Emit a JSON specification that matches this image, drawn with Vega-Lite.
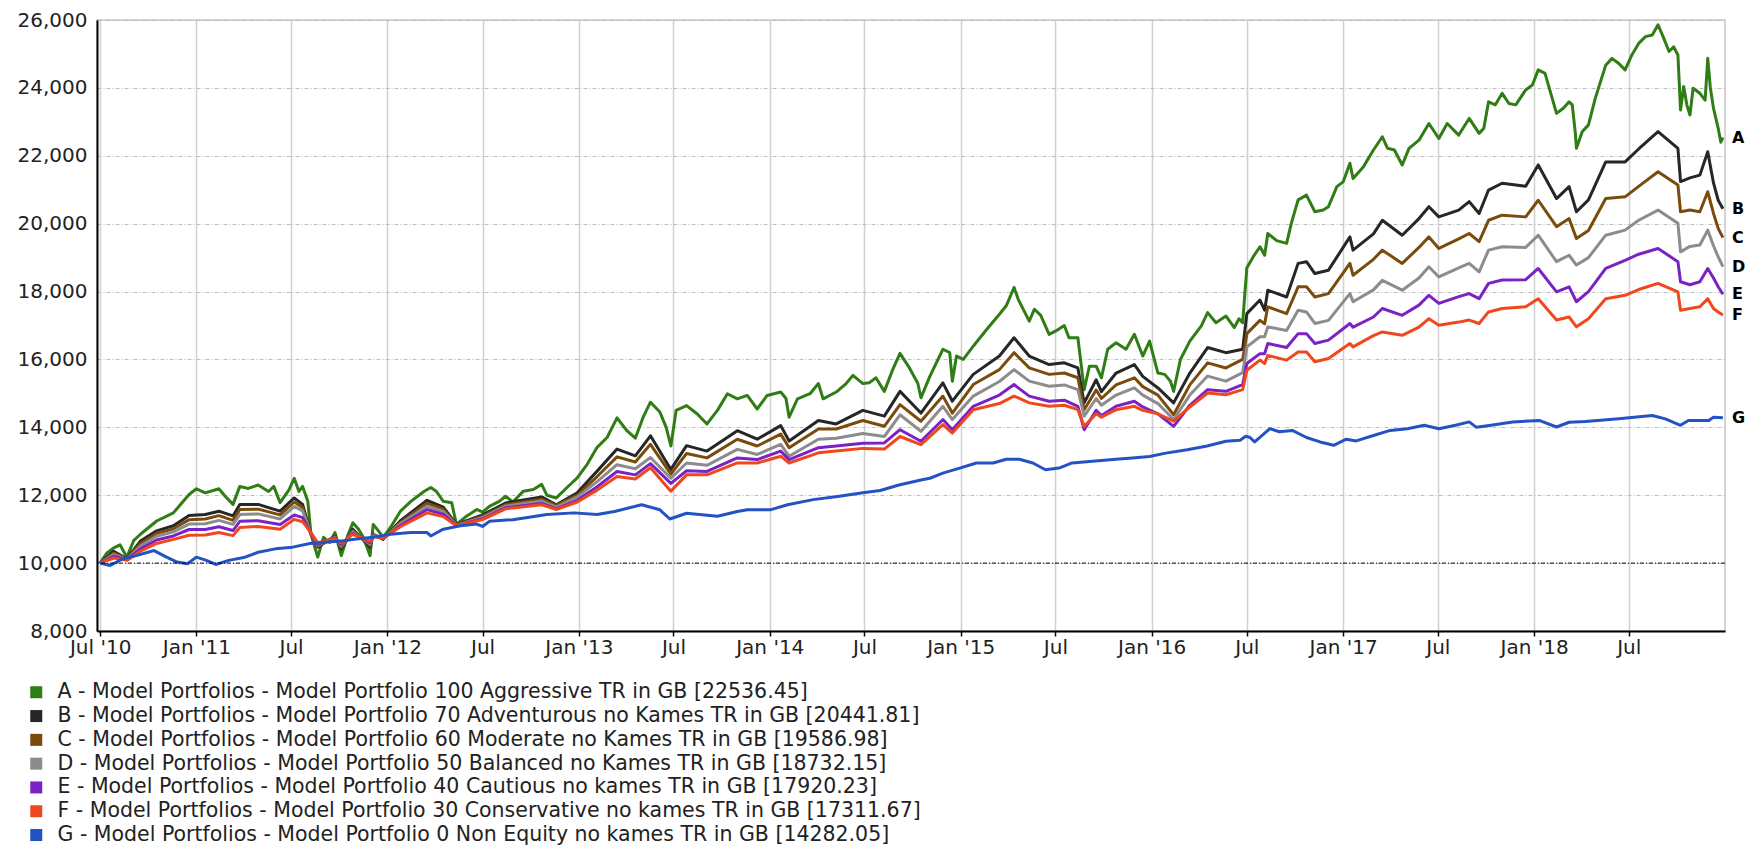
{
"$schema": "https://vega.github.io/schema/vega-lite/v6.json",
"width": 1628, "height": 611,
"autosize": {"type": "none"},
"padding": {"left": 97, "top": 20, "right": 24, "bottom": 217},
"background": "white",
"config": {"view": {"stroke": "#c8c8c8", "strokeWidth": 1.5}, "font": "DejaVu Sans"},
"datasets": {"series": [
{"d":"2010-07-01","s":"A","v":10000},{"d":"2010-07-14","s":"A","v":10300},{"d":"2010-07-27","s":"A","v":10450},{"d":"2010-08-08","s":"A","v":10540},{"d":"2010-08-21","s":"A","v":10175},{"d":"2010-09-03","s":"A","v":10660},{"d":"2010-09-16","s":"A","v":10850},{"d":"2010-10-17","s":"A","v":11240},{"d":"2010-11-18","s":"A","v":11480},{"d":"2010-12-18","s":"A","v":12020},{"d":"2011-01-01","s":"A","v":12190},{"d":"2011-01-18","s":"A","v":12070},{"d":"2011-02-13","s":"A","v":12190},{"d":"2011-02-25","s":"A","v":11970},{"d":"2011-03-12","s":"A","v":11730},{"d":"2011-03-25","s":"A","v":12260},{"d":"2011-04-10","s":"A","v":12200},{"d":"2011-04-29","s":"A","v":12300},{"d":"2011-05-19","s":"A","v":12110},{"d":"2011-05-29","s":"A","v":12260},{"d":"2011-06-10","s":"A","v":11780},{"d":"2011-06-27","s":"A","v":12160},{"d":"2011-07-07","s":"A","v":12500},{"d":"2011-07-16","s":"A","v":12110},{"d":"2011-07-23","s":"A","v":12260},{"d":"2011-08-02","s":"A","v":11820},{"d":"2011-08-08","s":"A","v":10850},{"d":"2011-08-21","s":"A","v":10175},{"d":"2011-09-01","s":"A","v":10760},{"d":"2011-09-13","s":"A","v":10610},{"d":"2011-09-23","s":"A","v":10900},{"d":"2011-10-05","s":"A","v":10220},{"d":"2011-10-17","s":"A","v":10800},{"d":"2011-10-27","s":"A","v":11190},{"d":"2011-11-07","s":"A","v":11000},{"d":"2011-11-16","s":"A","v":10760},{"d":"2011-11-29","s":"A","v":10220},{"d":"2011-12-05","s":"A","v":11140},{"d":"2011-12-15","s":"A","v":10950},{"d":"2011-12-24","s":"A","v":10760},{"d":"2012-01-07","s":"A","v":11050},{"d":"2012-01-26","s":"A","v":11530},{"d":"2012-02-15","s":"A","v":11820},{"d":"2012-03-11","s":"A","v":12110},{"d":"2012-03-24","s":"A","v":12230},{"d":"2012-04-04","s":"A","v":12110},{"d":"2012-04-17","s":"A","v":11820},{"d":"2012-05-03","s":"A","v":11780},{"d":"2012-05-12","s":"A","v":11140},{"d":"2012-06-01","s":"A","v":11390},{"d":"2012-06-20","s":"A","v":11580},{"d":"2012-07-01","s":"A","v":11500},{"d":"2012-07-14","s":"A","v":11670},{"d":"2012-08-02","s":"A","v":11820},{"d":"2012-08-14","s":"A","v":11970},{"d":"2012-08-28","s":"A","v":11800},{"d":"2012-09-17","s":"A","v":12120},{"d":"2012-10-06","s":"A","v":12170},{"d":"2012-10-22","s":"A","v":12320},{"d":"2012-11-01","s":"A","v":12000},{"d":"2012-11-19","s":"A","v":11920},{"d":"2012-12-09","s":"A","v":12220},{"d":"2012-12-29","s":"A","v":12510},{"d":"2013-01-17","s":"A","v":12910},{"d":"2013-02-05","s":"A","v":13410},{"d":"2013-02-24","s":"A","v":13700},{"d":"2013-03-15","s":"A","v":14280},{"d":"2013-04-03","s":"A","v":13900},{"d":"2013-04-19","s":"A","v":13680},{"d":"2013-05-04","s":"A","v":14300},{"d":"2013-05-18","s":"A","v":14740},{"d":"2013-06-05","s":"A","v":14450},{"d":"2013-06-17","s":"A","v":14000},{"d":"2013-06-26","s":"A","v":13450},{"d":"2013-07-06","s":"A","v":14500},{"d":"2013-07-26","s":"A","v":14640},{"d":"2013-08-15","s":"A","v":14400},{"d":"2013-09-03","s":"A","v":14100},{"d":"2013-09-23","s":"A","v":14500},{"d":"2013-10-12","s":"A","v":14990},{"d":"2013-10-31","s":"A","v":14840},{"d":"2013-11-19","s":"A","v":14940},{"d":"2013-12-08","s":"A","v":14540},{"d":"2013-12-27","s":"A","v":14940},{"d":"2014-01-22","s":"A","v":15040},{"d":"2014-02-01","s":"A","v":14850},{"d":"2014-02-07","s":"A","v":14300},{"d":"2014-02-23","s":"A","v":14840},{"d":"2014-03-19","s":"A","v":14990},{"d":"2014-04-04","s":"A","v":15290},{"d":"2014-04-13","s":"A","v":14840},{"d":"2014-05-08","s":"A","v":15040},{"d":"2014-05-27","s":"A","v":15290},{"d":"2014-06-09","s":"A","v":15530},{"d":"2014-06-28","s":"A","v":15290},{"d":"2014-07-10","s":"A","v":15310},{"d":"2014-07-23","s":"A","v":15460},{"d":"2014-08-08","s":"A","v":15060},{"d":"2014-08-24","s":"A","v":15700},{"d":"2014-09-07","s":"A","v":16180},{"d":"2014-09-25","s":"A","v":15750},{"d":"2014-10-11","s":"A","v":15300},{"d":"2014-10-17","s":"A","v":14870},{"d":"2014-11-03","s":"A","v":15500},{"d":"2014-11-28","s":"A","v":16300},{"d":"2014-12-11","s":"A","v":16200},{"d":"2014-12-16","s":"A","v":15360},{"d":"2014-12-24","s":"A","v":16100},{"d":"2015-01-06","s":"A","v":16000},{"d":"2015-01-25","s":"A","v":16390},{"d":"2015-02-20","s":"A","v":16890},{"d":"2015-03-16","s":"A","v":17330},{"d":"2015-03-29","s":"A","v":17580},{"d":"2015-04-13","s":"A","v":18120},{"d":"2015-04-21","s":"A","v":17770},{"d":"2015-05-12","s":"A","v":17130},{"d":"2015-05-22","s":"A","v":17480},{"d":"2015-06-03","s":"A","v":17300},{"d":"2015-06-19","s":"A","v":16740},{"d":"2015-07-02","s":"A","v":16840},{"d":"2015-07-18","s":"A","v":17000},{"d":"2015-07-27","s":"A","v":16640},{"d":"2015-08-13","s":"A","v":16640},{"d":"2015-08-22","s":"A","v":15500},{"d":"2015-08-25","s":"A","v":15110},{"d":"2015-09-04","s":"A","v":15800},{"d":"2015-09-17","s":"A","v":15800},{"d":"2015-09-27","s":"A","v":15460},{"d":"2015-10-09","s":"A","v":16300},{"d":"2015-10-25","s":"A","v":16490},{"d":"2015-11-13","s":"A","v":16300},{"d":"2015-11-29","s":"A","v":16740},{"d":"2015-12-15","s":"A","v":16100},{"d":"2015-12-28","s":"A","v":16540},{"d":"2016-01-13","s":"A","v":15600},{"d":"2016-01-26","s":"A","v":15560},{"d":"2016-02-06","s":"A","v":15360},{"d":"2016-02-12","s":"A","v":15060},{"d":"2016-02-25","s":"A","v":16000},{"d":"2016-03-14","s":"A","v":16540},{"d":"2016-04-05","s":"A","v":16990},{"d":"2016-04-17","s":"A","v":17380},{"d":"2016-05-03","s":"A","v":17080},{"d":"2016-05-22","s":"A","v":17280},{"d":"2016-06-07","s":"A","v":16940},{"d":"2016-06-16","s":"A","v":17200},{"d":"2016-06-23","s":"A","v":17080},{"d":"2016-06-27","s":"A","v":17900},{"d":"2016-07-01","s":"A","v":18700},{"d":"2016-07-13","s":"A","v":19020},{"d":"2016-07-26","s":"A","v":19320},{"d":"2016-08-04","s":"A","v":19070},{"d":"2016-08-10","s":"A","v":19710},{"d":"2016-08-27","s":"A","v":19500},{"d":"2016-09-15","s":"A","v":19420},{"d":"2016-09-24","s":"A","v":20010},{"d":"2016-10-07","s":"A","v":20700},{"d":"2016-10-23","s":"A","v":20840},{"d":"2016-11-08","s":"A","v":20350},{"d":"2016-11-24","s":"A","v":20400},{"d":"2016-12-04","s":"A","v":20500},{"d":"2016-12-20","s":"A","v":21090},{"d":"2017-01-01","s":"A","v":21230},{"d":"2017-01-14","s":"A","v":21780},{"d":"2017-01-20","s":"A","v":21330},{"d":"2017-02-09","s":"A","v":21680},{"d":"2017-02-28","s":"A","v":22170},{"d":"2017-03-17","s":"A","v":22560},{"d":"2017-03-27","s":"A","v":22220},{"d":"2017-04-09","s":"A","v":22170},{"d":"2017-04-24","s":"A","v":21730},{"d":"2017-05-07","s":"A","v":22220},{"d":"2017-05-26","s":"A","v":22460},{"d":"2017-06-14","s":"A","v":22950},{"d":"2017-07-03","s":"A","v":22510},{"d":"2017-07-19","s":"A","v":22950},{"d":"2017-08-10","s":"A","v":22610},{"d":"2017-08-30","s":"A","v":23100},{"d":"2017-09-18","s":"A","v":22660},{"d":"2017-09-27","s":"A","v":22810},{"d":"2017-10-06","s":"A","v":23590},{"d":"2017-10-19","s":"A","v":23500},{"d":"2017-11-01","s":"A","v":23840},{"d":"2017-11-14","s":"A","v":23540},{"d":"2017-11-27","s":"A","v":23500},{"d":"2017-12-16","s":"A","v":23940},{"d":"2017-12-29","s":"A","v":24090},{"d":"2018-01-09","s":"A","v":24530},{"d":"2018-01-22","s":"A","v":24430},{"d":"2018-02-01","s":"A","v":23890},{"d":"2018-02-13","s":"A","v":23250},{"d":"2018-02-26","s":"A","v":23400},{"d":"2018-03-09","s":"A","v":23590},{"d":"2018-03-15","s":"A","v":23500},{"d":"2018-03-21","s":"A","v":22660},{"d":"2018-03-23","s":"A","v":22220},{"d":"2018-04-03","s":"A","v":22710},{"d":"2018-04-15","s":"A","v":22910},{"d":"2018-04-28","s":"A","v":23690},{"d":"2018-05-18","s":"A","v":24670},{"d":"2018-05-30","s":"A","v":24870},{"d":"2018-06-12","s":"A","v":24720},{"d":"2018-06-24","s":"A","v":24530},{"d":"2018-07-07","s":"A","v":24970},{"d":"2018-07-20","s":"A","v":25310},{"d":"2018-08-02","s":"A","v":25510},{"d":"2018-08-15","s":"A","v":25560},{"d":"2018-08-26","s":"A","v":25860},{"d":"2018-09-06","s":"A","v":25460},{"d":"2018-09-16","s":"A","v":25070},{"d":"2018-09-25","s":"A","v":25210},{"d":"2018-10-03","s":"A","v":24970},{"d":"2018-10-08","s":"A","v":23350},{"d":"2018-10-14","s":"A","v":24040},{"d":"2018-10-20","s":"A","v":23500},{"d":"2018-10-26","s":"A","v":23200},{"d":"2018-11-01","s":"A","v":23990},{"d":"2018-11-14","s":"A","v":23840},{"d":"2018-11-24","s":"A","v":23640},{"d":"2018-11-29","s":"A","v":24870},{"d":"2018-12-04","s":"A","v":24000},{"d":"2018-12-10","s":"A","v":23400},{"d":"2018-12-19","s":"A","v":22810},{"d":"2018-12-24","s":"A","v":22400},{"d":"2018-12-28","s":"A","v":22536},
{"d":"2010-07-01","s":"B","v":10000},{"d":"2010-07-27","s":"B","v":10350},{"d":"2010-08-21","s":"B","v":10130},{"d":"2010-09-16","s":"B","v":10650},{"d":"2010-10-17","s":"B","v":10950},{"d":"2010-11-18","s":"B","v":11100},{"d":"2010-12-18","s":"B","v":11400},{"d":"2011-01-18","s":"B","v":11430},{"d":"2011-02-13","s":"B","v":11530},{"d":"2011-03-12","s":"B","v":11390},{"d":"2011-03-25","s":"B","v":11730},{"d":"2011-04-29","s":"B","v":11730},{"d":"2011-06-10","s":"B","v":11530},{"d":"2011-07-07","s":"B","v":11920},{"d":"2011-07-23","s":"B","v":11730},{"d":"2011-08-08","s":"B","v":10850},{"d":"2011-08-21","s":"B","v":10470},{"d":"2011-09-23","s":"B","v":10800},{"d":"2011-10-05","s":"B","v":10420},{"d":"2011-10-27","s":"B","v":11000},{"d":"2011-11-29","s":"B","v":10470},{"d":"2011-12-05","s":"B","v":10850},{"d":"2011-12-24","s":"B","v":10700},{"d":"2012-01-26","s":"B","v":11250},{"d":"2012-03-17","s":"B","v":11850},{"d":"2012-04-17","s":"B","v":11650},{"d":"2012-05-12","s":"B","v":11140},{"d":"2012-07-01","s":"B","v":11420},{"d":"2012-08-14","s":"B","v":11770},{"d":"2012-10-22","s":"B","v":11950},{"d":"2012-11-19","s":"B","v":11720},{"d":"2012-12-29","s":"B","v":12070},{"d":"2013-02-05","s":"B","v":12710},{"d":"2013-03-15","s":"B","v":13360},{"d":"2013-04-19","s":"B","v":13160},{"d":"2013-05-18","s":"B","v":13750},{"d":"2013-06-26","s":"B","v":12760},{"d":"2013-07-26","s":"B","v":13460},{"d":"2013-09-03","s":"B","v":13300},{"d":"2013-10-31","s":"B","v":13900},{"d":"2013-12-08","s":"B","v":13650},{"d":"2014-01-22","s":"B","v":14050},{"d":"2014-02-07","s":"B","v":13600},{"d":"2014-04-04","s":"B","v":14200},{"d":"2014-05-08","s":"B","v":14100},{"d":"2014-06-28","s":"B","v":14500},{"d":"2014-08-08","s":"B","v":14330},{"d":"2014-09-07","s":"B","v":15060},{"d":"2014-10-17","s":"B","v":14420},{"d":"2014-11-28","s":"B","v":15310},{"d":"2014-12-16","s":"B","v":14770},{"d":"2015-01-25","s":"B","v":15560},{"d":"2015-03-16","s":"B","v":16100},{"d":"2015-04-13","s":"B","v":16640},{"d":"2015-05-12","s":"B","v":16100},{"d":"2015-06-19","s":"B","v":15850},{"d":"2015-07-18","s":"B","v":15900},{"d":"2015-08-13","s":"B","v":15750},{"d":"2015-08-25","s":"B","v":14720},{"d":"2015-09-17","s":"B","v":15400},{"d":"2015-09-27","s":"B","v":15050},{"d":"2015-10-25","s":"B","v":15600},{"d":"2015-11-29","s":"B","v":15850},{"d":"2015-12-15","s":"B","v":15500},{"d":"2016-01-13","s":"B","v":15160},{"d":"2016-02-12","s":"B","v":14720},{"d":"2016-03-14","s":"B","v":15600},{"d":"2016-04-17","s":"B","v":16350},{"d":"2016-05-22","s":"B","v":16200},{"d":"2016-06-23","s":"B","v":16300},{"d":"2016-07-01","s":"B","v":17350},{"d":"2016-07-26","s":"B","v":17750},{"d":"2016-08-04","s":"B","v":17450},{"d":"2016-08-10","s":"B","v":18040},{"d":"2016-09-15","s":"B","v":17840},{"d":"2016-10-07","s":"B","v":18830},{"d":"2016-10-23","s":"B","v":18880},{"d":"2016-11-08","s":"B","v":18530},{"d":"2016-12-04","s":"B","v":18630},{"d":"2017-01-14","s":"B","v":19610},{"d":"2017-01-20","s":"B","v":19220},{"d":"2017-02-28","s":"B","v":19700},{"d":"2017-03-17","s":"B","v":20100},{"d":"2017-04-24","s":"B","v":19660},{"d":"2017-05-26","s":"B","v":20150},{"d":"2017-06-14","s":"B","v":20500},{"d":"2017-07-03","s":"B","v":20200},{"d":"2017-08-10","s":"B","v":20400},{"d":"2017-08-30","s":"B","v":20650},{"d":"2017-09-18","s":"B","v":20300},{"d":"2017-10-06","s":"B","v":20990},{"d":"2017-11-01","s":"B","v":21190},{"d":"2017-12-16","s":"B","v":21100},{"d":"2018-01-09","s":"B","v":21730},{"d":"2018-02-13","s":"B","v":20740},{"d":"2018-03-09","s":"B","v":21090},{"d":"2018-03-23","s":"B","v":20350},{"d":"2018-04-15","s":"B","v":20700},{"d":"2018-05-18","s":"B","v":21820},{"d":"2018-06-24","s":"B","v":21820},{"d":"2018-07-20","s":"B","v":22200},{"d":"2018-08-26","s":"B","v":22710},{"d":"2018-10-03","s":"B","v":22220},{"d":"2018-10-08","s":"B","v":21240},{"d":"2018-10-26","s":"B","v":21350},{"d":"2018-11-14","s":"B","v":21430},{"d":"2018-11-29","s":"B","v":22120},{"d":"2018-12-10","s":"B","v":21200},{"d":"2018-12-19","s":"B","v":20690},{"d":"2018-12-28","s":"B","v":20442},
{"d":"2010-07-01","s":"C","v":10000},{"d":"2010-07-27","s":"C","v":10300},{"d":"2010-08-21","s":"C","v":10120},{"d":"2010-09-16","s":"C","v":10580},{"d":"2010-10-17","s":"C","v":10880},{"d":"2010-11-18","s":"C","v":11010},{"d":"2010-12-18","s":"C","v":11280},{"d":"2011-01-18","s":"C","v":11300},{"d":"2011-02-13","s":"C","v":11400},{"d":"2011-03-12","s":"C","v":11260},{"d":"2011-03-25","s":"C","v":11580},{"d":"2011-04-29","s":"C","v":11590},{"d":"2011-06-10","s":"C","v":11420},{"d":"2011-07-07","s":"C","v":11800},{"d":"2011-07-23","s":"C","v":11640},{"d":"2011-08-08","s":"C","v":10850},{"d":"2011-08-21","s":"C","v":10500},{"d":"2011-09-23","s":"C","v":10780},{"d":"2011-10-05","s":"C","v":10470},{"d":"2011-10-27","s":"C","v":10950},{"d":"2011-11-29","s":"C","v":10520},{"d":"2011-12-05","s":"C","v":10830},{"d":"2011-12-24","s":"C","v":10710},{"d":"2012-01-26","s":"C","v":11200},{"d":"2012-03-17","s":"C","v":11770},{"d":"2012-04-17","s":"C","v":11590},{"d":"2012-05-12","s":"C","v":11130},{"d":"2012-07-01","s":"C","v":11380},{"d":"2012-08-14","s":"C","v":11720},{"d":"2012-10-22","s":"C","v":11880},{"d":"2012-11-19","s":"C","v":11700},{"d":"2012-12-29","s":"C","v":12000},{"d":"2013-02-05","s":"C","v":12550},{"d":"2013-03-15","s":"C","v":13130},{"d":"2013-04-19","s":"C","v":12980},{"d":"2013-05-18","s":"C","v":13500},{"d":"2013-06-26","s":"C","v":12620},{"d":"2013-07-26","s":"C","v":13230},{"d":"2013-09-03","s":"C","v":13100},{"d":"2013-10-31","s":"C","v":13650},{"d":"2013-12-08","s":"C","v":13450},{"d":"2014-01-22","s":"C","v":13800},{"d":"2014-02-07","s":"C","v":13400},{"d":"2014-04-04","s":"C","v":13950},{"d":"2014-05-08","s":"C","v":13950},{"d":"2014-06-28","s":"C","v":14200},{"d":"2014-08-08","s":"C","v":14030},{"d":"2014-09-07","s":"C","v":14670},{"d":"2014-10-17","s":"C","v":14180},{"d":"2014-11-28","s":"C","v":14920},{"d":"2014-12-16","s":"C","v":14420},{"d":"2015-01-25","s":"C","v":15260},{"d":"2015-03-16","s":"C","v":15700},{"d":"2015-04-13","s":"C","v":16200},{"d":"2015-05-12","s":"C","v":15750},{"d":"2015-06-19","s":"C","v":15560},{"d":"2015-07-18","s":"C","v":15600},{"d":"2015-08-13","s":"C","v":15460},{"d":"2015-08-25","s":"C","v":14520},{"d":"2015-09-17","s":"C","v":15100},{"d":"2015-09-27","s":"C","v":14850},{"d":"2015-10-25","s":"C","v":15250},{"d":"2015-11-29","s":"C","v":15460},{"d":"2015-12-15","s":"C","v":15200},{"d":"2016-01-13","s":"C","v":14950},{"d":"2016-02-12","s":"C","v":14370},{"d":"2016-03-14","s":"C","v":15250},{"d":"2016-04-17","s":"C","v":15900},{"d":"2016-05-22","s":"C","v":15750},{"d":"2016-06-23","s":"C","v":16000},{"d":"2016-07-01","s":"C","v":16760},{"d":"2016-07-26","s":"C","v":17150},{"d":"2016-08-04","s":"C","v":17050},{"d":"2016-08-10","s":"C","v":17550},{"d":"2016-09-15","s":"C","v":17350},{"d":"2016-10-07","s":"C","v":18140},{"d":"2016-10-23","s":"C","v":18140},{"d":"2016-11-08","s":"C","v":17840},{"d":"2016-12-04","s":"C","v":17940},{"d":"2017-01-14","s":"C","v":18830},{"d":"2017-01-20","s":"C","v":18480},{"d":"2017-02-28","s":"C","v":18950},{"d":"2017-03-17","s":"C","v":19220},{"d":"2017-04-24","s":"C","v":18830},{"d":"2017-05-26","s":"C","v":19300},{"d":"2017-06-14","s":"C","v":19610},{"d":"2017-07-03","s":"C","v":19270},{"d":"2017-08-10","s":"C","v":19550},{"d":"2017-08-30","s":"C","v":19710},{"d":"2017-09-18","s":"C","v":19470},{"d":"2017-10-06","s":"C","v":20100},{"d":"2017-11-01","s":"C","v":20250},{"d":"2017-12-16","s":"C","v":20200},{"d":"2018-01-09","s":"C","v":20690},{"d":"2018-02-13","s":"C","v":19910},{"d":"2018-03-09","s":"C","v":20150},{"d":"2018-03-23","s":"C","v":19560},{"d":"2018-04-15","s":"C","v":19800},{"d":"2018-05-18","s":"C","v":20740},{"d":"2018-06-24","s":"C","v":20790},{"d":"2018-07-20","s":"C","v":21100},{"d":"2018-08-26","s":"C","v":21530},{"d":"2018-10-03","s":"C","v":21140},{"d":"2018-10-08","s":"C","v":20350},{"d":"2018-10-26","s":"C","v":20400},{"d":"2018-11-14","s":"C","v":20350},{"d":"2018-11-29","s":"C","v":20940},{"d":"2018-12-10","s":"C","v":20300},{"d":"2018-12-19","s":"C","v":19860},{"d":"2018-12-28","s":"C","v":19587},
{"d":"2010-07-01","s":"D","v":10000},{"d":"2010-07-27","s":"D","v":10250},{"d":"2010-08-21","s":"D","v":10110},{"d":"2010-09-16","s":"D","v":10500},{"d":"2010-10-17","s":"D","v":10790},{"d":"2010-11-18","s":"D","v":10920},{"d":"2010-12-18","s":"D","v":11150},{"d":"2011-01-18","s":"D","v":11160},{"d":"2011-02-13","s":"D","v":11260},{"d":"2011-03-12","s":"D","v":11140},{"d":"2011-03-25","s":"D","v":11430},{"d":"2011-04-29","s":"D","v":11450},{"d":"2011-06-10","s":"D","v":11300},{"d":"2011-07-07","s":"D","v":11670},{"d":"2011-07-23","s":"D","v":11540},{"d":"2011-08-08","s":"D","v":10860},{"d":"2011-08-21","s":"D","v":10520},{"d":"2011-09-23","s":"D","v":10760},{"d":"2011-10-05","s":"D","v":10500},{"d":"2011-10-27","s":"D","v":10920},{"d":"2011-11-29","s":"D","v":10560},{"d":"2011-12-05","s":"D","v":10820},{"d":"2011-12-24","s":"D","v":10720},{"d":"2012-01-26","s":"D","v":11160},{"d":"2012-03-17","s":"D","v":11680},{"d":"2012-04-17","s":"D","v":11520},{"d":"2012-05-12","s":"D","v":11120},{"d":"2012-07-01","s":"D","v":11340},{"d":"2012-08-14","s":"D","v":11680},{"d":"2012-10-22","s":"D","v":11830},{"d":"2012-11-19","s":"D","v":11650},{"d":"2012-12-29","s":"D","v":11950},{"d":"2013-02-05","s":"D","v":12400},{"d":"2013-03-15","s":"D","v":12900},{"d":"2013-04-19","s":"D","v":12780},{"d":"2013-05-18","s":"D","v":13110},{"d":"2013-06-26","s":"D","v":12500},{"d":"2013-07-26","s":"D","v":12950},{"d":"2013-09-03","s":"D","v":12880},{"d":"2013-10-31","s":"D","v":13350},{"d":"2013-12-08","s":"D","v":13200},{"d":"2014-01-22","s":"D","v":13500},{"d":"2014-02-07","s":"D","v":13150},{"d":"2014-04-04","s":"D","v":13650},{"d":"2014-05-08","s":"D","v":13680},{"d":"2014-06-28","s":"D","v":13820},{"d":"2014-08-08","s":"D","v":13730},{"d":"2014-09-07","s":"D","v":14370},{"d":"2014-10-17","s":"D","v":13880},{"d":"2014-11-28","s":"D","v":14620},{"d":"2014-12-16","s":"D","v":14230},{"d":"2015-01-25","s":"D","v":14920},{"d":"2015-03-16","s":"D","v":15350},{"d":"2015-04-13","s":"D","v":15700},{"d":"2015-05-12","s":"D","v":15360},{"d":"2015-06-19","s":"D","v":15210},{"d":"2015-07-18","s":"D","v":15250},{"d":"2015-08-13","s":"D","v":15110},{"d":"2015-08-25","s":"D","v":14330},{"d":"2015-09-17","s":"D","v":14850},{"d":"2015-09-27","s":"D","v":14650},{"d":"2015-10-25","s":"D","v":14950},{"d":"2015-11-29","s":"D","v":15160},{"d":"2015-12-15","s":"D","v":14950},{"d":"2016-01-13","s":"D","v":14700},{"d":"2016-02-12","s":"D","v":14230},{"d":"2016-03-14","s":"D","v":14950},{"d":"2016-04-17","s":"D","v":15510},{"d":"2016-05-22","s":"D","v":15360},{"d":"2016-06-23","s":"D","v":15610},{"d":"2016-07-01","s":"D","v":16370},{"d":"2016-07-26","s":"D","v":16670},{"d":"2016-08-04","s":"D","v":16670},{"d":"2016-08-10","s":"D","v":16960},{"d":"2016-09-15","s":"D","v":16850},{"d":"2016-10-07","s":"D","v":17450},{"d":"2016-10-23","s":"D","v":17400},{"d":"2016-11-08","s":"D","v":17060},{"d":"2016-12-04","s":"D","v":17150},{"d":"2017-01-14","s":"D","v":17940},{"d":"2017-01-20","s":"D","v":17700},{"d":"2017-02-28","s":"D","v":18050},{"d":"2017-03-17","s":"D","v":18330},{"d":"2017-04-24","s":"D","v":18040},{"d":"2017-05-26","s":"D","v":18400},{"d":"2017-06-14","s":"D","v":18730},{"d":"2017-07-03","s":"D","v":18430},{"d":"2017-08-10","s":"D","v":18700},{"d":"2017-08-30","s":"D","v":18830},{"d":"2017-09-18","s":"D","v":18580},{"d":"2017-10-06","s":"D","v":19220},{"d":"2017-11-01","s":"D","v":19320},{"d":"2017-12-16","s":"D","v":19300},{"d":"2018-01-09","s":"D","v":19660},{"d":"2018-02-13","s":"D","v":18880},{"d":"2018-03-09","s":"D","v":19070},{"d":"2018-03-23","s":"D","v":18780},{"d":"2018-04-15","s":"D","v":19000},{"d":"2018-05-18","s":"D","v":19660},{"d":"2018-06-24","s":"D","v":19810},{"d":"2018-07-20","s":"D","v":20100},{"d":"2018-08-26","s":"D","v":20400},{"d":"2018-10-03","s":"D","v":20010},{"d":"2018-10-08","s":"D","v":19170},{"d":"2018-10-26","s":"D","v":19330},{"d":"2018-11-14","s":"D","v":19370},{"d":"2018-11-29","s":"D","v":19810},{"d":"2018-12-10","s":"D","v":19350},{"d":"2018-12-19","s":"D","v":19020},{"d":"2018-12-28","s":"D","v":18732},
{"d":"2010-07-01","s":"E","v":10000},{"d":"2010-07-27","s":"E","v":10200},{"d":"2010-08-21","s":"E","v":10100},{"d":"2010-09-16","s":"E","v":10420},{"d":"2010-10-17","s":"E","v":10680},{"d":"2010-11-18","s":"E","v":10800},{"d":"2010-12-18","s":"E","v":10990},{"d":"2011-01-18","s":"E","v":10990},{"d":"2011-02-13","s":"E","v":11070},{"d":"2011-03-12","s":"E","v":10960},{"d":"2011-03-25","s":"E","v":11230},{"d":"2011-04-29","s":"E","v":11250},{"d":"2011-06-10","s":"E","v":11140},{"d":"2011-07-07","s":"E","v":11420},{"d":"2011-07-23","s":"E","v":11340},{"d":"2011-08-08","s":"E","v":10880},{"d":"2011-08-21","s":"E","v":10550},{"d":"2011-09-23","s":"E","v":10740},{"d":"2011-10-05","s":"E","v":10540},{"d":"2011-10-27","s":"E","v":10880},{"d":"2011-11-29","s":"E","v":10600},{"d":"2011-12-05","s":"E","v":10800},{"d":"2011-12-24","s":"E","v":10730},{"d":"2012-01-26","s":"E","v":11110},{"d":"2012-03-17","s":"E","v":11580},{"d":"2012-04-17","s":"E","v":11440},{"d":"2012-05-12","s":"E","v":11110},{"d":"2012-07-01","s":"E","v":11300},{"d":"2012-08-14","s":"E","v":11630},{"d":"2012-10-22","s":"E","v":11760},{"d":"2012-11-19","s":"E","v":11600},{"d":"2012-12-29","s":"E","v":11850},{"d":"2013-02-05","s":"E","v":12250},{"d":"2013-03-15","s":"E","v":12700},{"d":"2013-04-19","s":"E","v":12600},{"d":"2013-05-18","s":"E","v":12930},{"d":"2013-06-26","s":"E","v":12350},{"d":"2013-07-26","s":"E","v":12720},{"d":"2013-09-03","s":"E","v":12700},{"d":"2013-10-31","s":"E","v":13100},{"d":"2013-12-08","s":"E","v":13050},{"d":"2014-01-22","s":"E","v":13300},{"d":"2014-02-07","s":"E","v":13050},{"d":"2014-04-04","s":"E","v":13400},{"d":"2014-05-08","s":"E","v":13450},{"d":"2014-06-28","s":"E","v":13530},{"d":"2014-08-08","s":"E","v":13540},{"d":"2014-09-07","s":"E","v":13930},{"d":"2014-10-17","s":"E","v":13590},{"d":"2014-11-28","s":"E","v":14230},{"d":"2014-12-16","s":"E","v":13930},{"d":"2015-01-25","s":"E","v":14620},{"d":"2015-03-16","s":"E","v":14950},{"d":"2015-04-13","s":"E","v":15260},{"d":"2015-05-12","s":"E","v":14920},{"d":"2015-06-19","s":"E","v":14770},{"d":"2015-07-18","s":"E","v":14800},{"d":"2015-08-13","s":"E","v":14620},{"d":"2015-08-25","s":"E","v":13930},{"d":"2015-09-17","s":"E","v":14500},{"d":"2015-09-27","s":"E","v":14350},{"d":"2015-10-25","s":"E","v":14620},{"d":"2015-11-29","s":"E","v":14770},{"d":"2015-12-15","s":"E","v":14600},{"d":"2016-01-13","s":"E","v":14400},{"d":"2016-02-12","s":"E","v":14030},{"d":"2016-03-14","s":"E","v":14650},{"d":"2016-04-17","s":"E","v":15110},{"d":"2016-05-22","s":"E","v":15060},{"d":"2016-06-23","s":"E","v":15260},{"d":"2016-07-01","s":"E","v":15880},{"d":"2016-07-26","s":"E","v":16170},{"d":"2016-08-04","s":"E","v":16170},{"d":"2016-08-10","s":"E","v":16470},{"d":"2016-09-15","s":"E","v":16350},{"d":"2016-10-07","s":"E","v":16760},{"d":"2016-10-23","s":"E","v":16760},{"d":"2016-11-08","s":"E","v":16470},{"d":"2016-12-04","s":"E","v":16570},{"d":"2017-01-14","s":"E","v":17060},{"d":"2017-01-20","s":"E","v":16950},{"d":"2017-02-28","s":"E","v":17250},{"d":"2017-03-17","s":"E","v":17500},{"d":"2017-04-24","s":"E","v":17300},{"d":"2017-05-26","s":"E","v":17600},{"d":"2017-06-14","s":"E","v":17890},{"d":"2017-07-03","s":"E","v":17650},{"d":"2017-08-10","s":"E","v":17850},{"d":"2017-08-30","s":"E","v":17940},{"d":"2017-09-18","s":"E","v":17790},{"d":"2017-10-06","s":"E","v":18240},{"d":"2017-11-01","s":"E","v":18340},{"d":"2017-12-16","s":"E","v":18350},{"d":"2018-01-09","s":"E","v":18680},{"d":"2018-02-13","s":"E","v":17990},{"d":"2018-03-09","s":"E","v":18140},{"d":"2018-03-23","s":"E","v":17700},{"d":"2018-04-15","s":"E","v":18000},{"d":"2018-05-18","s":"E","v":18680},{"d":"2018-06-24","s":"E","v":18920},{"d":"2018-07-20","s":"E","v":19100},{"d":"2018-08-26","s":"E","v":19270},{"d":"2018-10-03","s":"E","v":18880},{"d":"2018-10-08","s":"E","v":18290},{"d":"2018-10-26","s":"E","v":18200},{"d":"2018-11-14","s":"E","v":18290},{"d":"2018-11-29","s":"E","v":18680},{"d":"2018-12-10","s":"E","v":18400},{"d":"2018-12-19","s":"E","v":18140},{"d":"2018-12-28","s":"E","v":17920},
{"d":"2010-07-01","s":"F","v":10000},{"d":"2010-07-27","s":"F","v":10150},{"d":"2010-08-21","s":"F","v":10080},{"d":"2010-09-16","s":"F","v":10350},{"d":"2010-10-17","s":"F","v":10580},{"d":"2010-11-18","s":"F","v":10700},{"d":"2010-12-18","s":"F","v":10820},{"d":"2011-01-18","s":"F","v":10830},{"d":"2011-02-13","s":"F","v":10900},{"d":"2011-03-12","s":"F","v":10810},{"d":"2011-03-25","s":"F","v":11050},{"d":"2011-04-29","s":"F","v":11080},{"d":"2011-06-10","s":"F","v":11000},{"d":"2011-07-07","s":"F","v":11290},{"d":"2011-07-23","s":"F","v":11220},{"d":"2011-08-08","s":"F","v":10900},{"d":"2011-08-21","s":"F","v":10600},{"d":"2011-09-23","s":"F","v":10720},{"d":"2011-10-05","s":"F","v":10580},{"d":"2011-10-27","s":"F","v":10850},{"d":"2011-11-29","s":"F","v":10640},{"d":"2011-12-05","s":"F","v":10790},{"d":"2011-12-24","s":"F","v":10740},{"d":"2012-01-26","s":"F","v":11070},{"d":"2012-03-17","s":"F","v":11480},{"d":"2012-04-17","s":"F","v":11370},{"d":"2012-05-12","s":"F","v":11100},{"d":"2012-07-01","s":"F","v":11280},{"d":"2012-08-14","s":"F","v":11600},{"d":"2012-10-22","s":"F","v":11720},{"d":"2012-11-19","s":"F","v":11580},{"d":"2012-12-29","s":"F","v":11800},{"d":"2013-02-05","s":"F","v":12150},{"d":"2013-03-15","s":"F","v":12550},{"d":"2013-04-19","s":"F","v":12480},{"d":"2013-05-18","s":"F","v":12810},{"d":"2013-06-26","s":"F","v":12120},{"d":"2013-07-26","s":"F","v":12600},{"d":"2013-09-03","s":"F","v":12600},{"d":"2013-10-31","s":"F","v":12950},{"d":"2013-12-08","s":"F","v":12950},{"d":"2014-01-22","s":"F","v":13150},{"d":"2014-02-07","s":"F","v":12950},{"d":"2014-04-04","s":"F","v":13250},{"d":"2014-05-08","s":"F","v":13300},{"d":"2014-06-28","s":"F","v":13380},{"d":"2014-08-08","s":"F","v":13360},{"d":"2014-09-07","s":"F","v":13730},{"d":"2014-10-17","s":"F","v":13490},{"d":"2014-11-28","s":"F","v":14080},{"d":"2014-12-16","s":"F","v":13830},{"d":"2015-01-25","s":"F","v":14520},{"d":"2015-03-16","s":"F","v":14700},{"d":"2015-04-13","s":"F","v":14920},{"d":"2015-05-12","s":"F","v":14720},{"d":"2015-06-19","s":"F","v":14620},{"d":"2015-07-18","s":"F","v":14650},{"d":"2015-08-13","s":"F","v":14520},{"d":"2015-08-25","s":"F","v":14030},{"d":"2015-09-17","s":"F","v":14400},{"d":"2015-09-27","s":"F","v":14300},{"d":"2015-10-25","s":"F","v":14520},{"d":"2015-11-29","s":"F","v":14620},{"d":"2015-12-15","s":"F","v":14500},{"d":"2016-01-13","s":"F","v":14400},{"d":"2016-02-12","s":"F","v":14180},{"d":"2016-03-14","s":"F","v":14600},{"d":"2016-04-17","s":"F","v":15010},{"d":"2016-05-22","s":"F","v":14960},{"d":"2016-06-23","s":"F","v":15110},{"d":"2016-07-01","s":"F","v":15680},{"d":"2016-07-26","s":"F","v":15980},{"d":"2016-08-04","s":"F","v":15880},{"d":"2016-08-10","s":"F","v":16120},{"d":"2016-09-15","s":"F","v":15980},{"d":"2016-10-07","s":"F","v":16220},{"d":"2016-10-23","s":"F","v":16220},{"d":"2016-11-08","s":"F","v":15930},{"d":"2016-12-04","s":"F","v":16030},{"d":"2017-01-14","s":"F","v":16470},{"d":"2017-01-20","s":"F","v":16370},{"d":"2017-02-28","s":"F","v":16700},{"d":"2017-03-17","s":"F","v":16810},{"d":"2017-04-24","s":"F","v":16710},{"d":"2017-05-26","s":"F","v":16950},{"d":"2017-06-14","s":"F","v":17200},{"d":"2017-07-03","s":"F","v":17010},{"d":"2017-08-10","s":"F","v":17100},{"d":"2017-08-30","s":"F","v":17160},{"d":"2017-09-18","s":"F","v":17060},{"d":"2017-10-06","s":"F","v":17400},{"d":"2017-11-01","s":"F","v":17500},{"d":"2017-12-16","s":"F","v":17550},{"d":"2018-01-09","s":"F","v":17790},{"d":"2018-02-13","s":"F","v":17160},{"d":"2018-03-09","s":"F","v":17250},{"d":"2018-03-23","s":"F","v":16960},{"d":"2018-04-15","s":"F","v":17200},{"d":"2018-05-18","s":"F","v":17790},{"d":"2018-06-24","s":"F","v":17890},{"d":"2018-07-20","s":"F","v":18060},{"d":"2018-08-26","s":"F","v":18240},{"d":"2018-10-03","s":"F","v":17990},{"d":"2018-10-08","s":"F","v":17450},{"d":"2018-10-26","s":"F","v":17500},{"d":"2018-11-14","s":"F","v":17550},{"d":"2018-11-29","s":"F","v":17790},{"d":"2018-12-10","s":"F","v":17500},{"d":"2018-12-19","s":"F","v":17400},{"d":"2018-12-28","s":"F","v":17312},
{"d":"2010-07-01","s":"G","v":10000},{"d":"2010-07-20","s":"G","v":9930},{"d":"2010-08-14","s":"G","v":10130},{"d":"2010-09-03","s":"G","v":10200},{"d":"2010-10-12","s":"G","v":10370},{"d":"2010-11-05","s":"G","v":10175},{"d":"2010-11-25","s":"G","v":10030},{"d":"2010-12-15","s":"G","v":9980},{"d":"2011-01-01","s":"G","v":10175},{"d":"2011-01-20","s":"G","v":10080},{"d":"2011-02-07","s":"G","v":9960},{"d":"2011-03-04","s":"G","v":10080},{"d":"2011-04-04","s":"G","v":10175},{"d":"2011-04-29","s":"G","v":10320},{"d":"2011-06-01","s":"G","v":10420},{"d":"2011-07-04","s":"G","v":10470},{"d":"2011-08-06","s":"G","v":10580},{"d":"2011-10-09","s":"G","v":10660},{"d":"2011-11-03","s":"G","v":10710},{"d":"2011-12-05","s":"G","v":10760},{"d":"2012-01-07","s":"G","v":10850},{"d":"2012-02-15","s":"G","v":10900},{"d":"2012-03-17","s":"G","v":10900},{"d":"2012-03-24","s":"G","v":10800},{"d":"2012-04-17","s":"G","v":11000},{"d":"2012-05-20","s":"G","v":11100},{"d":"2012-06-20","s":"G","v":11150},{"d":"2012-07-01","s":"G","v":11080},{"d":"2012-07-14","s":"G","v":11230},{"d":"2012-08-28","s":"G","v":11280},{"d":"2012-11-01","s":"G","v":11430},{"d":"2012-12-23","s":"G","v":11480},{"d":"2013-02-05","s":"G","v":11430},{"d":"2013-03-10","s":"G","v":11520},{"d":"2013-05-01","s":"G","v":11720},{"d":"2013-06-05","s":"G","v":11570},{"d":"2013-06-24","s":"G","v":11300},{"d":"2013-07-26","s":"G","v":11470},{"d":"2013-09-23","s":"G","v":11380},{"d":"2013-10-31","s":"G","v":11520},{"d":"2013-11-19","s":"G","v":11570},{"d":"2014-01-02","s":"G","v":11570},{"d":"2014-02-04","s":"G","v":11720},{"d":"2014-03-25","s":"G","v":11870},{"d":"2014-05-14","s":"G","v":11970},{"d":"2014-06-28","s":"G","v":12070},{"d":"2014-07-31","s":"G","v":12140},{"d":"2014-09-05","s":"G","v":12300},{"d":"2014-10-17","s":"G","v":12450},{"d":"2014-11-03","s":"G","v":12500},{"d":"2014-11-28","s":"G","v":12650},{"d":"2014-12-30","s":"G","v":12800},{"d":"2015-01-31","s":"G","v":12950},{"d":"2015-03-04","s":"G","v":12950},{"d":"2015-03-29","s":"G","v":13060},{"d":"2015-04-23","s":"G","v":13060},{"d":"2015-05-19","s":"G","v":12950},{"d":"2015-06-12","s":"G","v":12750},{"d":"2015-07-08","s":"G","v":12800},{"d":"2015-08-02","s":"G","v":12950},{"d":"2015-09-10","s":"G","v":13000},{"d":"2015-10-19","s":"G","v":13050},{"d":"2015-11-25","s":"G","v":13100},{"d":"2015-12-28","s":"G","v":13140},{"d":"2016-01-28","s":"G","v":13240},{"d":"2016-03-09","s":"G","v":13340},{"d":"2016-04-16","s":"G","v":13450},{"d":"2016-05-22","s":"G","v":13590},{"d":"2016-06-18","s":"G","v":13620},{"d":"2016-06-29","s":"G","v":13740},{"d":"2016-07-07","s":"G","v":13700},{"d":"2016-07-16","s":"G","v":13570},{"d":"2016-08-14","s":"G","v":13960},{"d":"2016-09-01","s":"G","v":13870},{"d":"2016-09-26","s":"G","v":13910},{"d":"2016-10-23","s":"G","v":13700},{"d":"2016-11-18","s":"G","v":13570},{"d":"2016-12-14","s":"G","v":13470},{"d":"2017-01-07","s":"G","v":13650},{"d":"2017-01-26","s":"G","v":13600},{"d":"2017-02-28","s":"G","v":13760},{"d":"2017-04-01","s":"G","v":13910},{"d":"2017-05-04","s":"G","v":13960},{"d":"2017-06-05","s":"G","v":14060},{"d":"2017-07-03","s":"G","v":13960},{"d":"2017-08-04","s":"G","v":14060},{"d":"2017-08-30","s":"G","v":14160},{"d":"2017-09-13","s":"G","v":14000},{"d":"2017-10-11","s":"G","v":14060},{"d":"2017-11-21","s":"G","v":14160},{"d":"2018-01-12","s":"G","v":14200},{"d":"2018-02-13","s":"G","v":14010},{"d":"2018-03-09","s":"G","v":14150},{"d":"2018-04-09","s":"G","v":14170},{"d":"2018-06-12","s":"G","v":14250},{"d":"2018-08-15","s":"G","v":14350},{"d":"2018-09-09","s":"G","v":14250},{"d":"2018-10-08","s":"G","v":14060},{"d":"2018-10-23","s":"G","v":14200},{"d":"2018-12-01","s":"G","v":14200},{"d":"2018-12-10","s":"G","v":14300},{"d":"2018-12-28","s":"G","v":14282}
]},
"layer": [
{
"data": {"name": "series"},
"mark": {"type": "line", "strokeWidth": 3, "strokeJoin": "round"},
"encoding": {
"x": {"field": "d", "type": "temporal",
"scale": {"type": "utc", "domain": [{"year": 2010, "month": 6, "date": 25, "utc": true}, {"year": 2019, "month": 1, "date": 1, "utc": true}]},
"axis": {"title": null,
"values": [{"year":2010,"month":7,"date":1,"utc":true},{"year":2011,"month":1,"date":1,"utc":true},{"year":2011,"month":7,"date":1,"utc":true},{"year":2012,"month":1,"date":1,"utc":true},{"year":2012,"month":7,"date":1,"utc":true},{"year":2013,"month":1,"date":1,"utc":true},{"year":2013,"month":7,"date":1,"utc":true},{"year":2014,"month":1,"date":1,"utc":true},{"year":2014,"month":7,"date":1,"utc":true},{"year":2015,"month":1,"date":1,"utc":true},{"year":2015,"month":7,"date":1,"utc":true},{"year":2016,"month":1,"date":1,"utc":true},{"year":2016,"month":7,"date":1,"utc":true},{"year":2017,"month":1,"date":1,"utc":true},{"year":2017,"month":7,"date":1,"utc":true},{"year":2018,"month":1,"date":1,"utc":true},{"year":2018,"month":7,"date":1,"utc":true}],
"labelExpr": "utcmonth(datum.value) == 0 ? \"Jan '\" + utcFormat(datum.value, '%y') : (utcyear(datum.value) == 2010 ? \"Jul '10\" : 'Jul')",
"labelOverlap": false, "labelFont": "DejaVu Sans", "labelFontSize": 20, "labelColor": "#222222", "labelPadding": 1,
"domainColor": "#000000", "domainWidth": 2, "tickColor": "#000000", "tickSize": 5, "tickWidth": 1.5,
"grid": true, "gridColor": "#d0d0d0", "gridWidth": 1.5}},
"y": {"field": "v", "type": "quantitative",
"scale": {"domain": [8000, 26000], "nice": false, "zero": false},
"axis": {"title": null, "values": [8000,10000,12000,14000,16000,18000,20000,22000,24000,26000], "format": ",d",
"labelFont": "DejaVu Sans", "labelFontSize": 20, "labelColor": "#222222", "labelPadding": 10,
"domainColor": "#000000", "domainWidth": 2, "ticks": false,
"grid": true, "gridColor": "#bdbdbd", "gridWidth": 1, "gridDash": [4, 2, 1, 2]}},
"color": {"field": "s", "type": "nominal",
"scale": {"domain": ["A","B","C","D","E","F","G"], "range": ["#2f7d14","#262626","#7a4b0c","#8c8c8c","#7b22c4","#f0481c","#2352c4"]},
"legend": {"orient": "none", "legendX": -71, "legendY": 662, "direction": "vertical", "title": null,
"symbolType": "square", "symbolSize": 144, "labelFont": "DejaVu Sans", "labelFontSize": 20.5, "labelColor": "#222222",
"labelLimit": 1400, "labelOffset": 11, "rowPadding": 2.8,
"labelExpr": "datum.label == 'A' ? 'A - Model Portfolios - Model Portfolio 100 Aggressive TR in GB [22536.45]' : datum.label == 'B' ? 'B - Model Portfolios - Model Portfolio 70 Adventurous no Kames TR in GB [20441.81]' : datum.label == 'C' ? 'C - Model Portfolios - Model Portfolio 60 Moderate no Kames TR in GB [19586.98]' : datum.label == 'D' ? 'D - Model Portfolios - Model Portfolio 50 Balanced no Kames TR in GB [18732.15]' : datum.label == 'E' ? 'E - Model Portfolios - Model Portfolio 40 Cautious no kames TR in GB [17920.23]' : datum.label == 'F' ? 'F - Model Portfolios - Model Portfolio 30 Conservative no kames TR in GB [17311.67]' : 'G - Model Portfolios - Model Portfolio 0 Non Equity no kames TR in GB [14282.05]'",
"encode": {"symbols": {"update": {"fill": {"scale": "color", "field": "value"}, "fillOpacity": {"value": 1}, "strokeWidth": {"value": 0}}}}}}
}
},
{
"data": {"values": [{"v": 10000}]},
"mark": {"type": "rule", "color": "#000000", "strokeWidth": 1, "strokeDash": [4, 2, 1, 2]},
"encoding": {"y": {"field": "v", "type": "quantitative"}}
},
{
"data": {"name": "series"},
"transform": [{"filter": "utcyear(datum.d) == 2018 && utcmonth(datum.d) == 11 && utcdate(datum.d) == 28"}],
"mark": {"type": "text", "align": "left", "baseline": "middle", "dx": 9, "font": "DejaVu Sans", "fontWeight": "bold", "fontSize": 16, "color": "#000000"},
"encoding": {
"x": {"field": "d", "type": "temporal"},
"y": {"field": "v", "type": "quantitative"},
"text": {"field": "s"}
}
}
]
}
